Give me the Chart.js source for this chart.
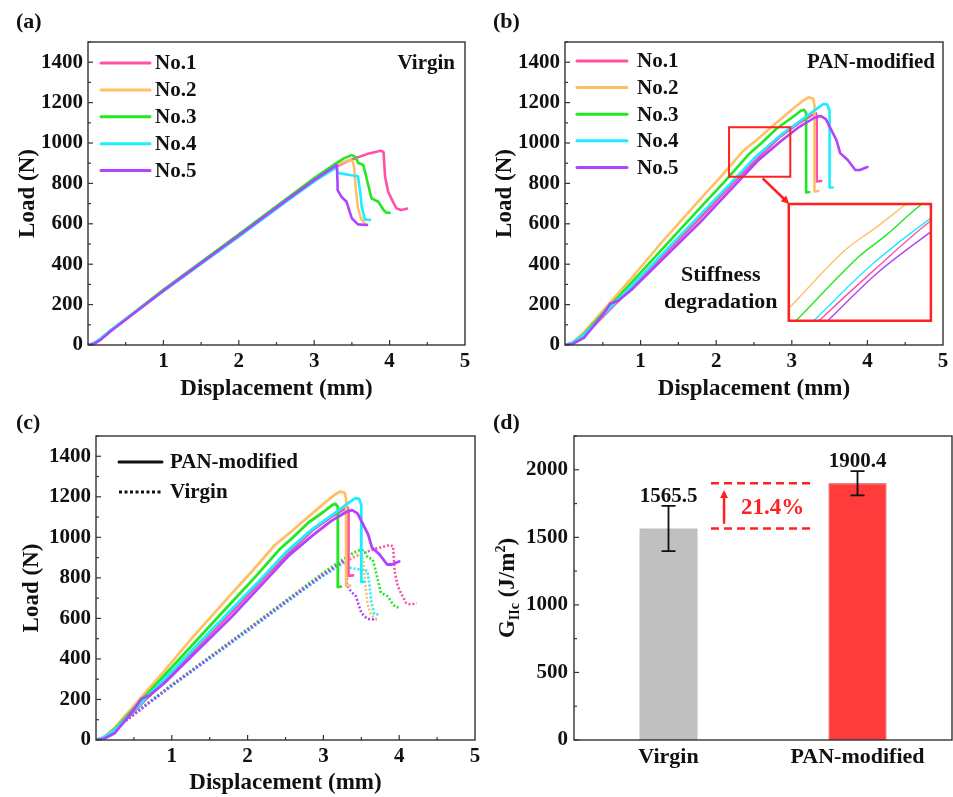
<!DOCTYPE html>
<html>
<head>
<meta charset="utf-8">
<script src="https://cdn.jsdelivr.net/npm/chart.js@4.4.1/dist/chart.umd.min.js"></script>
<style>
html, body { margin: 0; padding: 0; background: #fff; }
#wrap { position: relative; width: 953px; height: 797px; overflow: hidden; background: #fff; }
#wrap canvas { position: absolute; left: 0; top: 0; }
</style>
</head>
<body>
<div id="wrap">
  <canvas id="chartA" width="953" height="797"></canvas>
  <canvas id="chartB" width="953" height="797"></canvas>
  <canvas id="chartC" width="953" height="797"></canvas>
  <canvas id="chartD" width="953" height="797"></canvas>
  <canvas id="chartInset" width="953" height="797"></canvas>
</div>
<script>
// ---- data ----
const specimenNames = ['No.1', 'No.2', 'No.3', 'No.4', 'No.5'];
const dispTicks = [1, 2, 3, 4, 5];
const loadTicks = [0, 200, 400, 600, 800, 1000, 1200, 1400];

// Virgin load-displacement curves [mm, N]
const virginNo1 = [[0,0],[0.08,8],[0.16,26],[0.3,70],[1,270],[2,543],[2.65,722],[3,816],[3.2,866],[3.47,915],[3.7,945],[3.88,962],[3.92,955],[3.94,833],[3.98,760],[4.05,705],[4.09,677],[4.15,668],[4.23,675]];
const virginNo2 = [[0,0],[0.08,8],[0.16,26],[0.3,71],[1,272],[2,546],[2.65,726],[3,822],[3.25,884],[3.47,917],[3.51,910],[3.53,880],[3.55,780],[3.58,680],[3.62,625],[3.68,598],[3.7,596]];
const virginNo3 = [[0,0],[0.08,8],[0.16,27],[0.3,72],[1,273],[2,548],[2.65,729],[3,826],[3.25,890],[3.4,925],[3.5,940],[3.55,930],[3.58,902],[3.65,891],[3.68,850],[3.7,817],[3.76,726],[3.85,709],[3.92,668],[3.96,655],[4.0,655]];
const virginNo4 = [[0,0],[0.08,10],[0.16,30],[0.3,74],[1,266],[2,536],[2.65,716],[3,810],[3.3,880],[3.31,852],[3.47,842],[3.58,835],[3.61,760],[3.63,685],[3.67,622],[3.74,619]];
const virginNo5 = [[0,0],[0.08,6],[0.16,24],[0.3,68],[1,269],[2,542],[2.65,722],[3,816],[3.3,891],[3.31,800],[3.31,767],[3.36,734],[3.43,709],[3.47,660],[3.5,627],[3.58,597],[3.7,594]];

// PAN-modified load-displacement curves [mm, N]
const panNo1 = [[0,0],[0.1,8],[0.25,45],[0.9,292],[1.79,630],[2.22,800],[2.53,918],[2.85,1033],[3.1,1100],[3.28,1140],[3.32,1147],[3.33,1130],[3.33,810],[3.39,812]];
const panNo2 = [[0,0],[0.1,12],[0.25,62],[0.9,340],[1.26,500],[1.79,722],[2.05,829],[2.36,962],[2.55,1020],[2.71,1072],[3.0,1165],[3.15,1210],[3.22,1226],[3.28,1220],[3.3,1190],[3.3,760],[3.35,762]];
const panNo3 = [[0,0],[0.1,10],[0.25,55],[0.9,318],[1.79,680],[2.09,800],[2.43,944],[2.6,1000],[2.8,1072],[3.0,1125],[3.12,1160],[3.16,1165],[3.19,1150],[3.19,755],[3.23,757]];
const panNo4 = [[0,0],[0.1,12],[0.25,50],[0.9,300],[1.79,645],[2.19,800],[2.51,928],[2.85,1039],[3.15,1120],[3.35,1175],[3.42,1193],[3.47,1190],[3.5,1160],[3.5,780],[3.54,780]];
const panNo5 = [[0,0],[0.1,5],[0.25,35],[0.5,150],[0.6,205],[0.7,218],[0.9,280],[1.79,608],[2.27,800],[2.55,912],[2.85,1007],[3.1,1080],[3.3,1125],[3.38,1134],[3.45,1118],[3.5,1081],[3.59,1015],[3.64,950],[3.74,916],[3.84,866],[3.9,866],[4.0,881]];

// mode II fracture toughness
const groups = ['Virgin', 'PAN-modified'];
const gIIcMean = [1565.5, 1900.4];
const gIIcErr = [168, 90];
const gIIcTicks = [0, 500, 1000, 1500, 2000];

// ---- styles ----
const FONT = '"Liberation Serif", "Times New Roman", Times, serif';
const specimenColors = ['#ff4fa8', '#ffc064', '#22e822', '#1ceeff', '#b043ff'];
const barColors = ['#c0c0c0', '#ff3b3b'];
const barEdges = ['#7f7f7f', '#c42a2a'];

Chart.defaults.font.family = FONT;
Chart.defaults.font.weight = 'bold';
Chart.defaults.font.size = 21;
Chart.defaults.color = '#111';

const virginCurves = [virginNo1, virginNo2, virginNo3, virginNo4, virginNo5];
const panCurves = [panNo1, panNo2, panNo3, panNo4, panNo5];

function lineSets(curves, width, dash, orderBase, tension) {
  return curves.map((pts, i) => ({
    label: specimenNames[i],
    data: pts.map(p => ({ x: p[0], y: p[1] })),
    borderColor: specimenColors[i],
    borderWidth: width,
    borderDash: dash || [],
    borderJoinStyle: 'round',
    borderCapStyle: dash ? 'butt' : 'round',
    pointRadius: 0,
    tension: tension || 0,
    order: orderBase + curves.length - 1 - i
  }));
}

const framePlugin = {
  id: 'frame',
  afterDatasetsDraw(chart, args, opts) {
    const { ctx, chartArea: a, scales } = chart;
    ctx.save();
    ctx.strokeStyle = '#333';
    ctx.lineWidth = 1.4;
    ctx.strokeRect(a.left, a.top, a.right - a.left, a.bottom - a.top);
    ctx.lineWidth = 1.2;
    const xt = (v, len) => {
      const px = scales.x.getPixelForValue(v);
      ctx.beginPath(); ctx.moveTo(px, a.bottom); ctx.lineTo(px, a.bottom - len); ctx.stroke();
    };
    const yt = (v, len) => {
      const py = scales.y.getPixelForValue(v);
      ctx.beginPath(); ctx.moveTo(a.left, py); ctx.lineTo(a.left + len, py); ctx.stroke();
    };
    (opts.xMajor || []).forEach(v => xt(v, 5));
    (opts.xMinor || []).forEach(v => xt(v, 3));
    (opts.yMajor || []).forEach(v => yt(v, 5));
    (opts.yMinor || []).forEach(v => yt(v, 3));
    ctx.restore();
  }
};

function curveScales(yw, xh) {
  return {
    x: {
      type: 'linear', min: 0, max: 5,
      afterBuildTicks: s => { s.ticks = dispTicks.map(v => ({ value: v })); },
      afterFit: s => { s.height = xh; },
      grid: { display: false, drawTicks: false }, border: { display: false },
      ticks: { padding: 4, maxRotation: 0, autoSkip: false, callback: v => String(v) },
      title: { display: true, text: 'Displacement (mm)', font: { size: 23 }, padding: 0 }
    },
    y: {
      min: 0, max: 1500,
      afterBuildTicks: s => { s.ticks = loadTicks.map(v => ({ value: v })); },
      afterFit: s => { s.width = yw; },
      grid: { display: false, drawTicks: false }, border: { display: false },
      ticks: { padding: 5, autoSkip: false, callback: v => String(v) },
      title: { display: true, text: 'Load (N)', font: { size: 23 }, padding: 0 }
    }
  };
}

const curveFrame = {
  xMajor: [1, 2, 3, 4],
  xMinor: dispTicks.map(v => v - 0.5),
  yMajor: loadTicks,
  yMinor: loadTicks.map(v => v + 100)
};

function text(ctx, str, x, y, opt) {
  ctx.save();
  ctx.font = 'bold ' + (opt.size || 21) + 'px ' + FONT;
  ctx.fillStyle = opt.color || '#111';
  ctx.textAlign = opt.align || 'left';
  ctx.textBaseline = opt.baseline || 'middle';
  ctx.fillText(str, x, y);
  ctx.restore();
}

function drawLegend(ctx, a, cfg) {
  ctx.save();
  cfg.items.forEach((it, i) => {
    const y = a.top + cfg.top + i * cfg.gap;
    ctx.strokeStyle = it.color;
    ctx.lineWidth = cfg.lw;
    ctx.lineCap = it.dash ? 'butt' : 'round';
    ctx.setLineDash(it.dash || []);
    ctx.beginPath(); ctx.moveTo(a.left + cfg.x0, y); ctx.lineTo(a.left + cfg.x1, y); ctx.stroke();
    ctx.setLineDash([]);
    text(ctx, it.label, a.left + cfg.xt, y + 1, {});
  });
  ctx.restore();
}

function arrow(ctx, x0, y0, x1, y1, color, lw, head) {
  const ang = Math.atan2(y1 - y0, x1 - x0);
  ctx.save();
  ctx.strokeStyle = color; ctx.fillStyle = color; ctx.lineWidth = lw;
  ctx.beginPath(); ctx.moveTo(x0, y0);
  ctx.lineTo(x1 - Math.cos(ang) * head * 0.8, y1 - Math.sin(ang) * head * 0.8); ctx.stroke();
  ctx.beginPath();
  ctx.moveTo(x1, y1);
  ctx.lineTo(x1 - head * Math.cos(ang - 0.45), y1 - head * Math.sin(ang - 0.45));
  ctx.lineTo(x1 - head * Math.cos(ang + 0.45), y1 - head * Math.sin(ang + 0.45));
  ctx.closePath(); ctx.fill();
  ctx.restore();
}

const baseOpts = { responsive: false, animation: false, events: [] };

// ---- (a) Virgin ----
new Chart(document.getElementById('chartA'), {
  type: 'line',
  data: { datasets: lineSets(virginCurves, 2.6, null, 0) },
  options: Object.assign({}, baseOpts, {
    layout: { padding: { left: 14, top: 42, right: 488, bottom: 394 } },
    plugins: { legend: { display: false }, tooltip: { enabled: false }, frame: curveFrame },
    scales: curveScales(74, 58)
  }),
  plugins: [framePlugin, {
    id: 'panelA',
    afterDraw(c) {
      const ctx = c.ctx, a = c.chartArea;
      text(ctx, '(a)', 16, 22, { size: 22 });
      drawLegend(ctx, a, { x0: 13, x1: 62, xt: 67, top: 21, gap: 26.9, lw: 3,
        items: specimenNames.map((n, i) => ({ label: n, color: specimenColors[i] })) });
      text(ctx, 'Virgin', a.right - 10, a.top + 22, { align: 'right' });
    }
  }]
});

// ---- (b) PAN-modified ----
const chartB = new Chart(document.getElementById('chartB'), {
  type: 'line',
  data: { datasets: lineSets(panCurves, 2.6, null, 0) },
  options: Object.assign({}, baseOpts, {
    layout: { padding: { left: 491, top: 42, right: 10, bottom: 394 } },
    plugins: { legend: { display: false }, tooltip: { enabled: false }, frame: curveFrame },
    scales: curveScales(74, 58)
  }),
  plugins: [framePlugin, {
    id: 'panelB',
    afterDraw(c) {
      const ctx = c.ctx, a = c.chartArea, x = c.scales.x, y = c.scales.y;
      text(ctx, '(b)', 493, 22, { size: 22 });
      drawLegend(ctx, a, { x0: 12, x1: 62, xt: 72, top: 19, gap: 26.6, lw: 3,
        items: specimenNames.map((n, i) => ({ label: n, color: specimenColors[i] })) });
      text(ctx, 'PAN-modified', a.right - 8, a.top + 21, { align: 'right' });
      // zoom window and arrow to inset
      ctx.save();
      ctx.strokeStyle = '#ff2020'; ctx.lineWidth = 2;
      const rx0 = x.getPixelForValue(2.17), rx1 = x.getPixelForValue(2.98);
      const ry0 = y.getPixelForValue(1078), ry1 = y.getPixelForValue(833);
      ctx.strokeRect(rx0, ry0, rx1 - rx0, ry1 - ry0);
      ctx.restore();
      arrow(ctx, x.getPixelForValue(2.615), y.getPixelForValue(825),
        x.getPixelForValue(2.967), y.getPixelForValue(698), '#ff2020', 2.5, 9);
      text(ctx, 'Stiffness', x.getPixelForValue(2.06), y.getPixelForValue(347), { align: 'center', size: 22 });
      text(ctx, 'degradation', x.getPixelForValue(2.06), y.getPixelForValue(213), { align: 'center', size: 22 });
    }
  }]
});

// ---- inset of (b), placed through (b)'s scales ----
const ix0 = chartB.scales.x.getPixelForValue(2.96), ix1 = chartB.scales.x.getPixelForValue(4.84);
const iy0 = chartB.scales.y.getPixelForValue(698), iy1 = chartB.scales.y.getPixelForValue(120);
new Chart(document.getElementById('chartInset'), {
  type: 'line',
  data: { datasets: lineSets(panCurves, 1.4, null, 0, 0.35) },
  options: Object.assign({}, baseOpts, {
    layout: { padding: { left: ix0, top: iy0, right: 953 - ix1, bottom: 797 - iy1 } },
    plugins: { legend: { display: false }, tooltip: { enabled: false } },
    scales: {
      x: { type: 'linear', min: 2.05, max: 2.85, display: false },
      y: { min: 800, max: 1072, display: false }
    }
  }),
  plugins: [{
    id: 'insetBox',
    beforeDatasetsDraw(c) {
      const a = c.chartArea;
      c.ctx.save(); c.ctx.fillStyle = '#fff';
      c.ctx.fillRect(a.left, a.top, a.right - a.left, a.bottom - a.top); c.ctx.restore();
    },
    afterDraw(c) {
      const a = c.chartArea;
      c.ctx.save(); c.ctx.strokeStyle = '#ff2020'; c.ctx.lineWidth = 2.5;
      c.ctx.strokeRect(a.left, a.top, a.right - a.left, a.bottom - a.top); c.ctx.restore();
    }
  }]
});

// ---- (c) comparison ----
new Chart(document.getElementById('chartC'), {
  type: 'line',
  data: { datasets: lineSets(panCurves, 2.8, null, 0).concat(lineSets(virginCurves, 2.6, [2, 2], 10)) },
  options: Object.assign({}, baseOpts, {
    layout: { padding: { left: 18, top: 436, right: 478, bottom: 0 } },
    plugins: { legend: { display: false }, tooltip: { enabled: false }, frame: curveFrame },
    scales: curveScales(78, 57)
  }),
  plugins: [framePlugin, {
    id: 'panelC',
    afterDraw(c) {
      const ctx = c.ctx, a = c.chartArea;
      text(ctx, '(c)', 16, 423, { size: 22 });
      drawLegend(ctx, a, { x0: 23, x1: 66, xt: 74, top: 26, gap: 30, lw: 3,
        items: [{ label: 'PAN-modified', color: '#111' }, { label: 'Virgin', color: '#111', dash: [3, 2.5] }] });
    }
  }]
});

// ---- (d) GIIc bars ----
new Chart(document.getElementById('chartD'), {
  type: 'bar',
  data: {
    labels: groups,
    datasets: [{
      data: gIIcMean,
      backgroundColor: barColors,
      borderColor: barEdges,
      borderWidth: 1,
      barPercentage: 0.307,
      categoryPercentage: 1
    }]
  },
  options: Object.assign({}, baseOpts, {
    layout: { padding: { left: 494, top: 436, right: 1, bottom: 17 } },
    plugins: { legend: { display: false }, tooltip: { enabled: false },
      frame: { yMajor: gIIcTicks, yMinor: gIIcTicks.map(v => v + 250) } },
    scales: {
      x: {
        afterFit: s => { s.height = 40; },
        grid: { display: false, drawTicks: false }, border: { display: false },
        ticks: { padding: 4, font: { size: 22 } }
      },
      y: {
        min: 0, max: 2250,
        afterBuildTicks: s => { s.ticks = gIIcTicks.map(v => ({ value: v })); },
        afterFit: s => { s.width = 80; },
        grid: { display: false, drawTicks: false }, border: { display: false },
        ticks: { padding: 6, autoSkip: false, callback: v => String(v) }
      }
    }
  }),
  plugins: [framePlugin, {
    id: 'panelD',
    afterDatasetsDraw(c) {
      const ctx = c.ctx, x = c.scales.x, y = c.scales.y;
      ctx.save();
      ctx.strokeStyle = '#111'; ctx.lineWidth = 1.8;
      gIIcMean.forEach((m, i) => {
        const px = x.getPixelForValue(i);
        const top = y.getPixelForValue(m + gIIcErr[i]), bot = y.getPixelForValue(m - gIIcErr[i]);
        ctx.beginPath();
        ctx.moveTo(px, top); ctx.lineTo(px, bot);
        ctx.moveTo(px - 7, top); ctx.lineTo(px + 7, top);
        ctx.moveTo(px - 7, bot); ctx.lineTo(px + 7, bot);
        ctx.stroke();
        text(ctx, m.toFixed(1), px, top - 4, { align: 'center', baseline: 'alphabetic' });
      });
      ctx.restore();
    },
    afterDraw(c) {
      const ctx = c.ctx, a = c.chartArea, x = c.scales.x, y = c.scales.y;
      text(ctx, '(d)', 493, 423, { size: 22 });
      // increase annotation
      ctx.save();
      ctx.strokeStyle = '#ff2020'; ctx.lineWidth = 2.5; ctx.setLineDash([8, 5]);
      [gIIcMean[1], gIIcMean[0]].forEach(v => {
        const py = y.getPixelForValue(v);
        ctx.beginPath(); ctx.moveTo(x.getPixelForValue(0.225), py); ctx.lineTo(x.getPixelForValue(0.775), py); ctx.stroke();
      });
      ctx.restore();
      arrow(ctx, x.getPixelForValue(0.294), y.getPixelForValue(gIIcMean[0] + 35),
        x.getPixelForValue(0.294), y.getPixelForValue(gIIcMean[1] - 50), '#ff2020', 2.5, 9);
      const gain = ((gIIcMean[1] - gIIcMean[0]) / gIIcMean[0] * 100).toFixed(1) + '%';
      text(ctx, gain, x.getPixelForValue(0.383), y.getPixelForValue((gIIcMean[0] + gIIcMean[1]) / 2) + 2,
        { size: 23, color: '#ff2020' });
      // y title with subscript and superscript
      ctx.save();
      ctx.translate(506, (a.top + a.bottom) / 2);
      ctx.rotate(-Math.PI / 2);
      ctx.fillStyle = '#111';
      ctx.textBaseline = 'alphabetic';
      const parts = [
        { t: 'G', s: 23, dy: 0 }, { t: 'IIc', s: 14, dy: 5 }, { t: ' (J/m', s: 23, dy: 0 },
        { t: '2', s: 14, dy: -9 }, { t: ')', s: 23, dy: 0 }
      ];
      let total = 0;
      parts.forEach(p => { ctx.font = 'bold ' + p.s + 'px ' + FONT; p.w = ctx.measureText(p.t).width; total += p.w; });
      let cx = -total / 2;
      parts.forEach(p => { ctx.font = 'bold ' + p.s + 'px ' + FONT; ctx.fillText(p.t, cx, 8 + p.dy); cx += p.w; });
      ctx.restore();
    }
  }]
});
</script>
</body>
</html>
